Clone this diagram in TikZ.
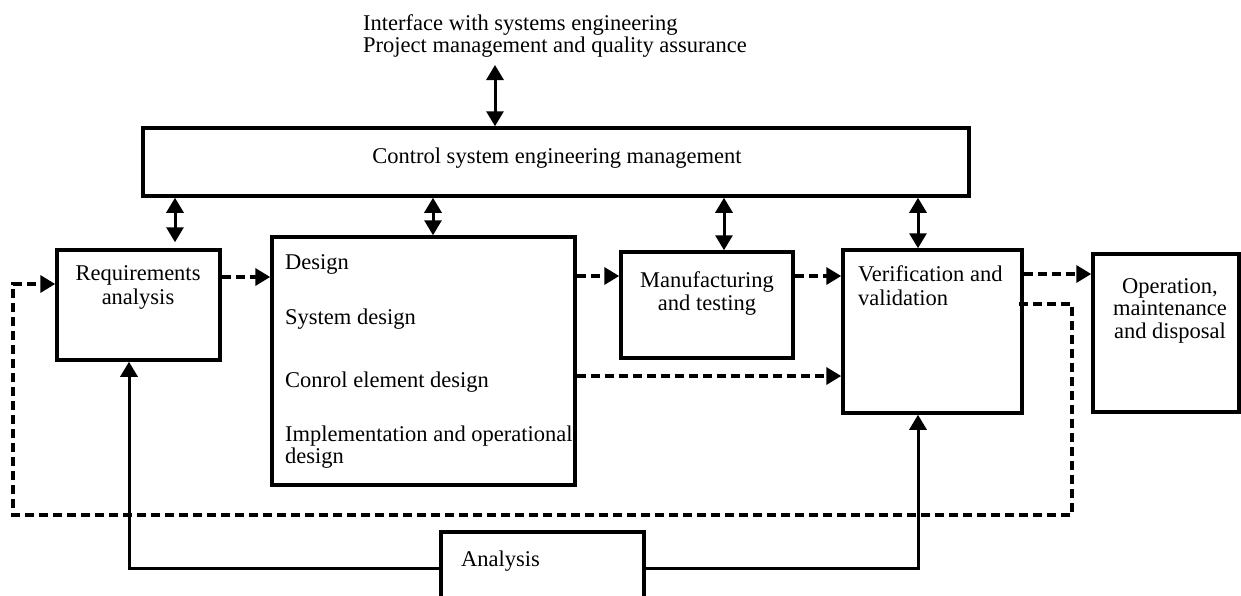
\documentclass[tikz,border=0pt]{standalone}
\usepackage{fontspec}
\setmainfont{Liberation Serif}
\usetikzlibrary{arrows.meta}
\newcommand\mystrut{\rule{0pt}{17pt}}
\begin{document}
\begin{tikzpicture}[x=1pt,y=-1pt,
  box/.style={draw, line width=3.5pt, inner sep=0pt, rectangle},
  txt/.style={inner sep=0pt, font=\fontsize{22.5}{24}\selectfont},
  txtb/.style={inner sep=0pt, font=\fontsize{22.5}{22.5}\selectfont},
  tipa/.tip={Triangle[length=15pt,width=17pt]},
  dbl/.style={line width=3pt, tipa-tipa},
  sol/.style={line width=3pt, -tipa},
  dsh/.style={line width=3.5pt, dash pattern=on 9pt off 5pt, -tipa},
  dshl/.style={line width=3.5pt, dash pattern=on 9pt off 5pt}]
\clip (0,0) rectangle (1241,595);
\fill[white] (0,0) rectangle (1241,595);

% boxes
\node[box, minimum width=826pt, minimum height=68pt] (ctrl) at (556,162) {};
\node[box, minimum width=163pt, minimum height=110pt] (req) at (138.5,305) {};
\node[box, minimum width=303pt, minimum height=248pt] (design) at (423.5,361) {};
\node[box, minimum width=172pt, minimum height=106pt] (manuf) at (707,305) {};
\node[box, minimum width=179pt, minimum height=163pt] (verif) at (932.5,331.5) {};
\node[box, minimum width=146pt, minimum height=158pt] (oper) at (1166,333) {};
\node[box, minimum width=203pt, minimum height=108pt] (anal) at (542.5,586) {};

% texts
\node[txtb, align=left, anchor=north west] (topT) at (363,13) {\mystrut Interface with systems engineering\\Project management and quality assurance};
\node[txt, anchor=base] (ctrlT) at (557,163) {Control system engineering management};
\node[txt, align=center, anchor=north] (reqT) at (138,263) {\mystrut Requirements\\analysis};
\node[txt, anchor=base west] (dT1) at (285,269) {Design};
\node[txt, anchor=base west] (dT2) at (285,324) {System design};
\node[txt, anchor=base west] (dT3) at (285,387) {Conrol element design};
\node[txtb, align=left, anchor=north west] (dT4) at (285,424) {\mystrut Implementation and operational\\design};
\node[txt, align=center, anchor=north, font=\fontsize{22.5}{23}\selectfont] (manT) at (707,270) {\mystrut Manufacturing\\and testing};
\node[txt, align=left, anchor=north west] (verT) at (858,264) {\mystrut Verification and\\validation};
\node[txtb, align=center, anchor=north] (opT) at (1170,276) {\mystrut Operation,\\maintenance\\and disposal};
\node[txt, anchor=base west] (anT) at (461,566) {Analysis};

% helper coordinates
\coordinate (tA) at (495,65);
\coordinate (xR) at (175,0);
\coordinate (xD) at (433,0);
\coordinate (xM) at (724,0);
\coordinate (xV) at (918,0);
\coordinate (xL) at (129,0);
\coordinate (yRD) at (0,277);
\coordinate (yDM) at (0,276);
\coordinate (yVO) at (0,274);
\coordinate (yDV) at (0,376);
\coordinate (yAn) at (0,568);
\coordinate (fb1) at (1072,304);
\coordinate (fb2) at (1072,515);
\coordinate (fb3) at (13,515);
\coordinate (fb4) at (13,284);

% double arrows with management
\draw[dbl] (tA) -- (ctrl.north -| tA);
\draw[dbl, shorten >=6pt] (ctrl.south -| xR) -- (req.north -| xR);
\draw[dbl] (ctrl.south -| xD) -- (design.north -| xD);
\draw[dbl] (ctrl.south -| xM) -- (manuf.north -| xM);
\draw[dbl] (ctrl.south -| xV) -- (verif.north -| xV);

% dashed flow
\draw[dsh] (req.east |- yRD) -- (design.west |- yRD);
\draw[dsh] (design.east |- yDM) -- (manuf.west |- yDM);
\draw[dsh] (manuf.east |- yDM) -- (verif.west |- yDM);
\draw[dsh] (verif.east |- yVO) -- (oper.west |- yVO);
\draw[dsh] (design.east |- yDV) -- (verif.west |- yDV);

% feedback loop
\draw[dsh] ([xshift=-5pt]verif.east |- fb1) -- (fb1) -- (fb2) -- (fb3) -- (fb4) -- (req.west |- fb4);

% analysis
\draw[sol] (anal.west |- yAn) -- (xL |- yAn) -- (req.south -| xL);
\draw[sol] (anal.east |- yAn) -- (xV |- yAn) -- (verif.south -| xV);
\end{tikzpicture}
\end{document}
